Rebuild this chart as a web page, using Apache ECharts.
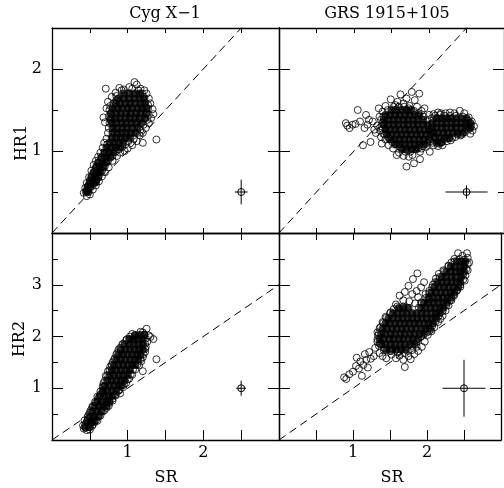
<!DOCTYPE html>
<html><head><meta charset="utf-8">
<script src="https://cdn.jsdelivr.net/npm/echarts@6/dist/echarts.min.js"></script>
<style>html,body{margin:0;padding:0;background:#fff}#c{width:504px;height:488px}</style>
</head><body><div id="c"></div>
<script>
// ---- text ----
const panelTitles = ['Cyg X\u22121', 'GRS 1915+105'];
const yNames = ['HR1', 'HR2'];
const xName = 'SR';
const xTickLabels = [1, 2];
const yTickLabelsTop = [1, 2];
const yTickLabelsBottom = [1, 2, 3];

// ---- Cyg X-1, HR1 vs SR: dense core rows [y, [x...]] ----
const cygHR1Core = [
  [1.70,[0.95,1.02,1.09,1.16]],
  [1.64,[0.88,0.95,1.02,1.09,1.16,1.22]],
  [1.58,[0.84,0.90,0.97,1.03,1.10,1.17,1.23]],
  [1.52,[0.80,0.87,0.93,1.00,1.06,1.13,1.19,1.25]],
  [1.46,[0.78,0.85,0.91,0.98,1.04,1.11,1.17,1.24]],
  [1.40,[0.78,0.84,0.90,0.97,1.03,1.10,1.16,1.23]],
  [1.34,[0.79,0.85,0.92,0.98,1.05,1.11,1.18]],
  [1.28,[0.80,0.86,0.93,0.99,1.06,1.13]],
  [1.22,[0.80,0.86,0.92,0.98,1.04,1.10]],
  [1.16,[0.79,0.85,0.91,0.97,1.03]],
  [1.10,[0.76,0.82,0.88,0.94]],
  [1.04,[0.72,0.78,0.84,0.90]],
  [0.98,[0.69,0.75,0.81]],
  [0.92,[0.65,0.71,0.77]],
  [0.86,[0.61,0.67,0.72]],
  [0.80,[0.58,0.63,0.68]],
  [0.74,[0.55,0.60,0.64]],
  [0.68,[0.52,0.57,0.61]],
  [0.62,[0.50,0.54,0.58]],
  [0.56,[0.47,0.51]],
  [0.50,[0.45,0.48]]
];
const cygHR1 = [
  [0.42,0.49],[0.44,0.55],[0.46,0.61],[0.49,0.68],[0.52,0.76],[0.55,0.83],[0.58,0.88],[0.61,0.93],
  [0.64,0.98],[0.67,1.04],[0.69,1.10],[0.72,1.15],[0.74,1.22],[0.75,1.28],[0.70,1.35],[0.68,1.41],
  [0.72,1.52],[0.74,1.60],[0.71,1.76],[0.79,1.66],[0.84,1.71],[0.89,1.77],[0.95,1.75],[1.02,1.78],
  [1.09,1.84],[1.12,1.81],[1.17,1.76],[1.22,1.74],[1.25,1.70],[1.21,1.66],[1.28,1.64],[1.30,1.58],
  [1.33,1.51],[1.34,1.45],[1.31,1.40],[1.28,1.34],[1.24,1.28],[1.20,1.22],[1.16,1.19],[1.20,1.10],
  [1.38,1.14],[1.12,1.12],[1.06,1.07],[1.00,1.03],[0.96,1.00],[0.90,0.98],[0.86,0.94],[0.80,0.88],
  [0.75,0.80],[0.70,0.74],[0.66,0.69],[0.62,0.63],[0.58,0.58],[0.54,0.53],[0.50,0.47],[0.46,0.45],
  [0.78,1.45],[0.76,1.34],[0.77,1.55],[0.85,1.67],[1.27,1.52],[1.25,1.46],[0.93,1.05],[0.84,0.99],
  [0.92,1.74],[1.06,1.76],[1.14,1.74],[1.19,1.70],[0.85,1.62],[0.81,1.58],[0.76,1.50],[0.75,1.42],
  [0.77,1.38],[1.27,1.56],[1.28,1.44],[1.26,1.38],[1.21,1.32],[1.17,1.26],[1.13,1.22],[1.08,1.15],
  [1.01,1.12],[0.97,1.08],[0.88,1.02],[0.80,0.94],[0.74,0.88],[0.70,0.82],[0.66,0.76],[0.62,0.70],
  [0.58,0.65],[0.55,0.60],[0.73,1.08],[0.70,0.98],[0.66,0.92],[0.62,0.86],[0.59,0.81],[0.56,0.74],
  [0.53,0.70],[0.50,0.64],[0.48,0.58],[0.46,0.52]
];

// ---- GRS 1915+105, HR1 vs SR ----
const grsHR1Core = [
  [1.50,[1.50,1.56,1.63,1.70,1.76]],
  [1.44,[1.42,1.48,1.55,1.61,1.68,1.74,1.81,1.87]],
  [1.38,[1.40,1.46,1.53,1.59,1.66,1.72,1.79,1.85,1.92]],
  [1.32,[1.40,1.46,1.53,1.59,1.66,1.72,1.79,1.85,1.92,1.98]],
  [1.26,[1.42,1.48,1.55,1.61,1.68,1.74,1.81,1.87,1.94,2.00]],
  [1.20,[1.44,1.50,1.57,1.63,1.70,1.76,1.83,1.89,1.96,2.02]],
  [1.14,[1.48,1.54,1.61,1.67,1.74,1.80,1.87,1.93,2.00]],
  [1.08,[1.55,1.61,1.68,1.74,1.81,1.87,1.94]],
  [1.02,[1.64,1.70,1.77,1.83]],
  [1.40,[2.10,2.17,2.24,2.30,2.37,2.43,2.50]],
  [1.34,[2.04,2.10,2.17,2.23,2.30,2.36,2.43,2.49,2.55]],
  [1.28,[2.04,2.10,2.17,2.23,2.30,2.36,2.43,2.49,2.55]],
  [1.22,[2.06,2.12,2.19,2.25,2.32,2.38,2.45]],
  [1.16,[2.08,2.14,2.21,2.27]],
  [1.10,[2.10,2.16]]
];
const grsHR1 = [
  [0.89,1.34],[0.91,1.31],[0.94,1.28],[0.98,1.32],[1.02,1.33],[1.05,1.50],[1.08,1.36],[1.12,1.07],
  [1.14,1.28],[1.16,1.44],[1.18,1.32],[1.20,1.38],[1.22,1.11],[1.25,1.36],[1.27,1.26],[1.29,1.22],
  [1.31,1.31],[1.33,1.52],[1.34,1.42],[1.35,1.25],[1.36,1.17],[1.38,1.34],[1.38,1.48],[1.37,1.09],
  [1.42,1.55],[1.49,1.63],[1.55,1.56],[1.58,1.60],[1.62,1.69],[1.66,1.58],[1.70,1.64],[1.74,1.55],
  [1.77,1.72],[1.81,1.62],[1.84,1.54],[1.87,1.70],[1.90,1.49],[1.94,1.52],[2.00,1.44],[2.06,1.45],
  [2.12,1.47],[2.16,1.46],[2.22,1.46],[2.28,1.47],[2.34,1.46],[2.41,1.49],[2.47,1.46],[2.53,1.41],
  [2.57,1.36],[2.60,1.30],[2.58,1.25],[2.55,1.21],[2.48,1.23],[2.42,1.19],[2.35,1.17],[2.29,1.13],
  [2.24,1.12],[2.18,1.07],[2.12,1.06],[2.06,1.07],[2.01,0.99],[1.96,1.05],[1.90,1.03],[1.88,0.99],
  [1.88,0.90],[1.80,0.85],[1.78,0.95],[1.70,0.81],[1.73,0.93],[1.66,0.94],[1.60,0.98],[1.57,0.95],
  [1.52,1.03],[1.46,1.07],[1.42,1.14],[1.39,1.21],[1.38,1.27],[1.39,1.42],
  [1.45,1.50],[1.53,1.54],[1.60,1.54],[1.67,1.54],[1.73,1.52],[1.80,1.49],[1.86,1.46],[1.93,1.42],
  [1.98,1.38],[2.04,1.40],[2.08,1.43],[2.15,1.44],[2.21,1.43],[2.28,1.43],[2.36,1.43],[2.45,1.42],
  [2.52,1.37],[2.56,1.31],[2.52,1.26],[2.44,1.20],[2.38,1.20],[2.31,1.16],[2.24,1.15],[2.17,1.11],
  [2.13,1.09],[2.05,1.10],[2.02,1.12],[1.98,1.10],[1.92,1.06],[1.86,1.04],[1.80,1.02],[1.75,0.99],
  [1.69,0.99],[1.62,1.04],[1.57,1.08],[1.51,1.11],[1.46,1.16],[1.41,1.20],[1.37,1.30],[1.36,1.38]
];

// ---- Cyg X-1, HR2 vs SR ----
const cygHR2Core = [
  [0.25,[0.44,0.49]],
  [0.35,[0.46,0.52,0.56]],
  [0.45,[0.50,0.56,0.61]],
  [0.55,[0.53,0.59,0.65]],
  [0.65,[0.56,0.62,0.68,0.72]],
  [0.75,[0.60,0.66,0.72,0.76]],
  [0.85,[0.63,0.69,0.75,0.80]],
  [0.95,[0.67,0.73,0.79,0.85]],
  [1.05,[0.70,0.76,0.82,0.88,0.92]],
  [1.15,[0.73,0.79,0.85,0.91,0.96]],
  [1.25,[0.76,0.82,0.88,0.94,1.00]],
  [1.35,[0.79,0.85,0.91,0.97,1.03]],
  [1.45,[0.82,0.88,0.94,1.00,1.06,1.10]],
  [1.55,[0.85,0.91,0.97,1.03,1.09,1.14]],
  [1.65,[0.88,0.94,1.00,1.06,1.12,1.17]],
  [1.75,[0.91,0.97,1.03,1.09,1.15,1.20]],
  [1.85,[0.96,1.02,1.08,1.14,1.20]],
  [1.95,[1.02,1.08,1.14,1.20]],
  [2.03,[1.10,1.16,1.22]]
];
const cygHR2 = [
  [0.42,0.22],[0.44,0.30],[0.47,0.38],[0.50,0.25],[0.52,0.33],[0.55,0.43],[0.48,0.48],[0.51,0.57],
  [0.54,0.66],[0.58,0.72],[0.61,0.80],[0.64,0.88],[0.675,0.91],[0.68,1.02],[0.68,1.10],[0.71,1.24],
  [0.74,1.33],[0.77,1.42],[0.80,1.50],[0.83,1.58],[0.89,1.59],[0.86,1.68],[0.90,1.78],[0.94,1.86],
  [0.98,1.93],[1.03,2.00],[1.09,2.01],[1.17,2.09],[1.25,2.15],[1.22,2.04],[1.28,2.02],[1.30,1.99],
  [1.34,1.95],[1.26,1.90],[1.24,1.80],[1.23,1.70],[1.20,1.60],[1.18,1.52],[1.38,1.56],[1.15,1.44],
  [1.20,1.33],[1.10,1.36],[1.06,1.26],[1.02,1.18],[0.98,1.10],[0.94,1.02],[0.90,0.90],[0.88,0.95],
  [0.84,0.88],[0.80,0.80],[0.76,0.72],[0.72,0.62],[0.67,0.55],[0.62,0.46],[0.58,0.38],[0.54,0.30],
  [0.50,0.20],[0.46,0.19],[0.44,0.24],
  [0.41,0.28],[0.43,0.38],[0.47,0.44],[0.50,0.53],[0.53,0.63],[0.57,0.74],[0.60,0.84],[0.64,0.94],
  [0.67,1.04],[0.70,1.15],[0.73,1.25],[0.76,1.35],[0.79,1.45],[0.82,1.55],[0.85,1.65],[0.88,1.75],
  [0.93,1.85],[0.99,1.95],[1.06,2.05],
  [0.53,0.27],[0.60,0.37],[0.64,0.47],[0.69,0.57],[0.75,0.66],[0.80,0.76],[0.84,0.86],[0.89,0.97],
  [0.95,1.07],[1.00,1.17],[1.04,1.27],[1.07,1.36],[1.13,1.46],[1.17,1.56],[1.21,1.66],[1.23,1.76],
  [1.23,1.86],[1.24,1.96],[1.20,2.08]
];

// ---- GRS 1915+105, HR2 vs SR ----
const grsHR2Core = [
  [1.75,[1.45,1.52,1.58,1.65,1.71]],
  [1.85,[1.38,1.44,1.51,1.57,1.64,1.70,1.77,1.83]],
  [1.95,[1.36,1.42,1.49,1.55,1.62,1.68,1.75,1.81,1.88]],
  [2.05,[1.38,1.44,1.51,1.57,1.64,1.70,1.77,1.83,1.90,1.96]],
  [2.15,[1.40,1.46,1.53,1.59,1.66,1.72,1.79,1.85,1.92,1.98,2.04]],
  [2.25,[1.44,1.50,1.57,1.63,1.70,1.76,1.83,1.89,1.96,2.02,2.08]],
  [2.35,[1.48,1.54,1.61,1.67,1.74,1.80,1.87,1.93,2.00,2.06,2.12]],
  [2.45,[1.54,1.60,1.67,1.73,1.80,1.86,1.93,1.99,2.06,2.12,2.17]],
  [2.55,[1.62,1.68,1.75,1.92,1.98,2.05,2.11,2.18,2.22]],
  [2.65,[1.96,2.02,2.09,2.15,2.22,2.27]],
  [2.75,[2.02,2.08,2.15,2.21,2.28,2.33]],
  [2.85,[2.06,2.12,2.19,2.25,2.32,2.37]],
  [2.95,[2.10,2.16,2.23,2.29,2.36,2.42]],
  [3.05,[2.14,2.20,2.27,2.33,2.40,2.45]],
  [3.15,[2.20,2.26,2.33,2.39,2.46]],
  [3.25,[2.26,2.32,2.39,2.45,2.50]],
  [3.35,[2.32,2.38,2.45,2.50]],
  [3.45,[2.40,2.46,2.52]]
];
const grsHR2 = [
  [0.88,1.21],[0.91,1.18],[0.95,1.27],[1.00,1.32],[1.04,1.43],[1.08,1.38],[1.12,1.24],[1.14,1.45],
  [1.20,1.40],[1.05,1.59],[1.10,1.52],[1.16,1.66],[1.18,1.55],[1.24,1.57],[1.22,1.70],[1.28,1.62],
  [1.30,1.78],[1.33,2.08],[1.33,1.90],[1.36,1.68],[1.40,1.62],[1.45,1.58],[1.52,1.65],[1.58,1.58],
  [1.63,1.63],[1.70,1.41],[1.68,1.55],[1.75,1.62],[1.78,1.56],[1.83,1.66],[1.88,1.72],[1.93,1.80],
  [1.97,1.90],[2.01,2.03],[2.06,2.10],[2.10,2.18],[2.15,2.28],[2.18,2.34],[2.21,2.40],[2.25,2.50],
  [2.29,2.60],[2.33,2.70],[2.37,2.80],[2.40,2.88],[2.45,2.96],[2.51,3.08],[2.52,3.18],[2.55,3.28],
  [2.57,3.43],[2.55,3.52],[2.54,3.61],[2.48,3.56],[2.42,3.61],[2.37,3.50],[2.33,3.43],[2.29,3.37],
  [2.22,3.28],[2.16,3.21],[2.12,3.12],[2.08,3.00],[2.03,2.88],[1.98,2.82],[2.03,2.72],[1.96,3.05],
  [1.92,2.95],[1.87,3.22],[1.81,3.11],[1.86,2.88],[1.75,2.98],[1.80,2.82],[1.70,2.86],[1.63,2.79],
  [1.68,2.70],[1.76,2.68],[1.88,2.76],[1.84,2.64],[1.92,2.66],[1.55,2.53],[1.58,2.62],[1.50,2.45],
  [1.44,2.38],[1.40,2.28],[1.36,2.16],[1.34,2.02],[1.36,1.86],[1.42,1.78],[1.50,1.72],[1.60,1.70],
  [1.70,1.68],[1.80,1.74],[1.86,1.80],
  [1.42,1.73],[1.35,1.82],[1.33,1.95],[1.35,2.06],[1.37,2.18],[1.41,2.26],[1.45,2.36],[1.51,2.47],
  [1.60,2.58],[1.68,2.58],[1.73,2.56],[1.89,2.56],[1.93,2.64],[1.99,2.75],[2.03,2.84],[2.07,2.95],
  [2.11,3.05],[2.17,3.15],[2.23,3.26],[2.29,3.36],[2.37,3.45],[2.44,3.50],[2.50,3.48],[2.55,3.40],
  [2.53,3.30],[2.49,3.20],[2.49,3.10],[2.45,3.00],[2.41,2.90],[2.36,2.80],[2.31,2.70],[2.26,2.60],
  [2.21,2.49],[2.16,2.40],[2.12,2.30],[2.07,2.20],[2.00,2.10],[1.92,2.00],[1.86,1.90],[1.80,1.82],
  [1.74,1.72],[1.62,1.72],[1.52,1.72]
];

// ---- typical error bars [x, y, xErr, yErr] ----
const errCygHR1 = [[2.5, 0.5, 0.085, 0.15]];
const errGrsHR1 = [[2.5, 0.5, 0.28, 0.08]];
const errCygHR2 = [[2.5, 1.0, 0.065, 0.145]];
const errGrsHR2 = [[2.5, 1.0, 0.29, 0.55]];

// ---- equality line SR = HR ----
const unityLine = [[0, 0], [3, 3]];

// ---- axis ranges ----
const xRange = [0, 3];
const yRangeTop = [0, 2.5];
const yRangeBottom = [0, 4];

function expandRows(rows) {
  const out = [];
  rows.forEach(r => r[1].forEach(x => out.push([x, r[0]])));
  return out;
}

const FONT = '"DejaVu Serif", "Liberation Serif", serif';
const BLACK = '#000';

const panels = [
  {core: cygHR1Core, pts: cygHR1, err: errCygHR1, yr: yRangeTop, yLabels: yTickLabelsTop, showY: true, showX: false, top: true,
   grid: {left: 52, top: 28, width: 227, height: 205}},
  {core: grsHR1Core, pts: grsHR1, err: errGrsHR1, yr: yRangeTop, yLabels: yTickLabelsTop, showY: false, showX: false, top: true,
   grid: {left: 279, top: 28, width: 228, height: 205}},
  {core: cygHR2Core, pts: cygHR2, err: errCygHR2, yr: yRangeBottom, yLabels: yTickLabelsBottom, showY: true, showX: true, top: false,
   grid: {left: 52, top: 233, width: 227, height: 207}},
  {core: grsHR2Core, pts: grsHR2, err: errGrsHR2, yr: yRangeBottom, yLabels: yTickLabelsBottom, showY: false, showX: true, top: false,
   grid: {left: 279, top: 233, width: 228, height: 207}}
];

const grids = [], xAxes = [], yAxes = [], series = [];
const lineStyle = {color: BLACK, width: 1.3};

panels.forEach((p, g) => {
  grids.push(Object.assign({containLabel: false}, p.grid));
  const mkX = (pos, len, labels) => ({
    type: 'value', gridIndex: g, position: pos, min: xRange[0], max: xRange[1], interval: 0.5,
    axisLine: {show: true, onZero: false, lineStyle},
    axisTick: {show: true, inside: true, length: len, lineStyle: {color: BLACK, width: 1}},
    axisLabel: {show: labels, margin: 5, color: BLACK, fontFamily: FONT, fontSize: 16,
      formatter: v => xTickLabels.some(t => Math.abs(t - v) < 1e-6) ? String(Math.round(v)) : ''},
    splitLine: {show: false}
  });
  xAxes.push(mkX('bottom', p.top ? 5 : 10, p.showX));
  xAxes.push(mkX('top', p.top ? 5 : 7, false));
  const mkY = (pos, interval, len, line, labels) => ({
    type: 'value', gridIndex: g, position: pos, min: p.yr[0], max: p.yr[1], interval,
    axisLine: {show: line, onZero: false, lineStyle},
    axisTick: {show: true, inside: true, length: len, lineStyle: {color: BLACK, width: 1}},
    axisLabel: {show: labels, margin: 10, color: BLACK, fontFamily: FONT, fontSize: 16,
      formatter: v => p.yLabels.some(t => Math.abs(t - v) < 1e-6) ? String(Math.round(v)) : ''},
    splitLine: {show: false}
  });
  const yi = yAxes.length;
  yAxes.push(mkY('left', 0.5, 6, true, p.showY));
  yAxes.push(mkY('left', 1, 11, false, false));
  yAxes.push(mkY('right', 0.5, 6, true, false));
  yAxes.push(mkY('right', 1, 11, false, false));
  const xi = g * 2;

  series.push({
    type: 'line', xAxisIndex: xi, yAxisIndex: yi, data: unityLine, symbol: 'none', silent: true,
    clip: true, lineStyle: {color: BLACK, width: 1, type: [8, 5]}, z: 1
  });
  series.push({
    type: 'scatter', xAxisIndex: xi, yAxisIndex: yi, data: expandRows(p.core), symbol: 'circle', symbolSize: 8,
    itemStyle: {color: BLACK}, silent: true, z: 2
  });
  series.push({
    type: 'scatter', xAxisIndex: xi, yAxisIndex: yi, data: p.pts, symbol: 'circle', symbolSize: 7,
    itemStyle: {color: 'rgba(0,0,0,0)', borderColor: BLACK, borderWidth: 1}, silent: true, z: 3
  });
  series.push({
    type: 'custom', xAxisIndex: xi, yAxisIndex: yi, data: p.err, silent: true, z: 4,
    renderItem: (params, api) => {
      const x = api.value(0), y = api.value(1), ex = api.value(2), ey = api.value(3);
      const c = api.coord([x, y]);
      const l = api.coord([x - ex, y]), r = api.coord([x + ex, y]);
      const b = api.coord([x, y - ey]), t = api.coord([x, y + ey]);
      const st = {stroke: BLACK, lineWidth: 1, fill: null};
      return {type: 'group', children: [
        {type: 'line', shape: {x1: l[0], y1: l[1], x2: r[0], y2: r[1]}, style: st},
        {type: 'line', shape: {x1: b[0], y1: b[1], x2: t[0], y2: t[1]}, style: st},
        {type: 'circle', shape: {cx: c[0], cy: c[1], r: 3.5}, style: {stroke: BLACK, lineWidth: 1, fill: 'rgba(0,0,0,0)'}}
      ]};
    }
  });
});

const textStyle = (t) => ({text: t, font: '16px ' + FONT, fill: BLACK, textAlign: 'center', textVerticalAlign: 'middle'});
const graphic = [
  {type: 'text', x: 165, y: 14, style: textStyle(panelTitles[0])},
  {type: 'text', x: 387, y: 14, style: textStyle(panelTitles[1])},
  {type: 'text', x: 22, y: 143, rotation: Math.PI / 2, style: textStyle(yNames[0])},
  {type: 'text', x: 20, y: 339, rotation: Math.PI / 2, style: textStyle(yNames[1])},
  {type: 'text', x: 166, y: 478, style: textStyle(xName)},
  {type: 'text', x: 392, y: 478, style: textStyle(xName)}
];

const chart = echarts.init(document.getElementById('c'), null, {renderer: 'canvas'});
chart.setOption({
  animation: false,
  backgroundColor: '#fff',
  grid: grids, xAxis: xAxes, yAxis: yAxes, series, graphic
});
</script></body></html>
